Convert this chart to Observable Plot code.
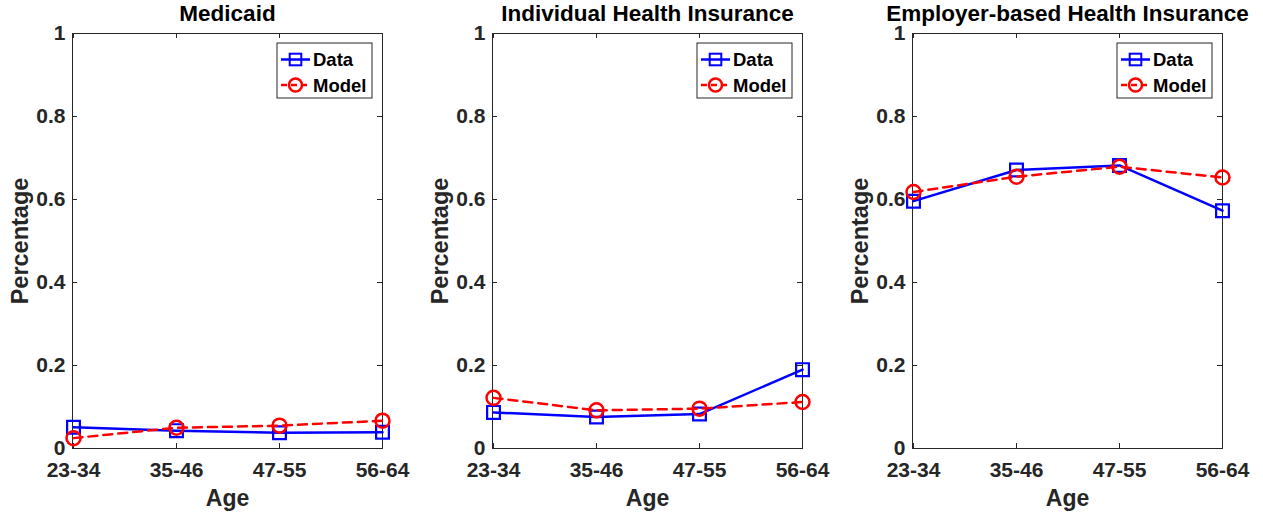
<!DOCTYPE html>
<html>
<head>
<meta charset="utf-8">
<script src="https://cdn.jsdelivr.net/npm/d3@7"></script>
<script src="https://cdn.jsdelivr.net/npm/@observablehq/plot@0.6"></script>
<style>
  html, body { margin: 0; padding: 0; background: #fff; }
  #chart { display: flex; width: 1263px; height: 514px; }
  #chart svg { display: block; }
</style>
</head>
<body>
<div id="chart"></div>
<script>
// Age groups on the x axis
const ages = ["23-34", "35-46", "47-55", "56-64"];
const yTicks = [0, 0.2, 0.4, 0.6, 0.8, 1];

// Share of people covered, by insurance type: observed data vs. model
const medicaidData = [0.051, 0.043, 0.038, 0.039];
const medicaidModel = [0.025, 0.050, 0.055, 0.067];
const individualData = [0.087, 0.076, 0.083, 0.190];
const individualModel = [0.122, 0.092, 0.096, 0.112];
const employerData = [0.596, 0.671, 0.682, 0.573];
const employerModel = [0.618, 0.655, 0.679, 0.653];

const panelTitles = ["Medicaid", "Individual Health Insurance", "Employer-based Health Insurance"];

const FONT = "'Liberation Sans', Arial, Helvetica, sans-serif";
const BLUE = "#0000ff", RED = "#ff0000", AXIS = "#262626";

function panel(title, dataVals, modelVals) {
  const rows = ages.map((age, i) => ({age, data: dataVals[i], model: modelVals[i]}));
  const W = 420, H = 514, mL = 72, mR = 38, mT = 33, mB = 66;
  const fw = W - mL - mR, fh = H - mT - mB;

  const plot = Plot.plot({
    width: W,
    height: H,
    marginLeft: mL,
    marginRight: mR,
    marginTop: mT,
    marginBottom: mB,
    style: {fontFamily: FONT, fontWeight: "bold", background: "white", overflow: "visible"},
    x: {type: "point", domain: ages, padding: 0},
    y: {domain: [0, 1]},
    marks: [
      Plot.frame({stroke: AXIS, strokeWidth: 1}),
      // inward ticks on all four sides
      Plot.tickY(yTicks, {y: d => d, insetRight: fw - 5, stroke: AXIS}),
      Plot.tickY(yTicks, {y: d => d, insetLeft: fw - 5, stroke: AXIS}),
      Plot.tickX(ages, {x: d => d, insetTop: fh - 5, stroke: AXIS}),
      Plot.tickX(ages, {x: d => d, insetBottom: fh - 5, stroke: AXIS}),
      Plot.axisY(yTicks, {tickSize: 0, tickPadding: 7, fontSize: 21, fill: AXIS, label: null, tickFormat: d => String(d)}),
      Plot.axisX(ages, {tickSize: 0, tickPadding: 14, fontSize: 21, fill: AXIS, label: null}),
      // axis labels and title
      Plot.text(["Percentage"], {frameAnchor: "left", dx: -52, rotate: -90, textAnchor: "middle", lineAnchor: "middle", fontSize: 23.5, fill: AXIS, text: d => d}),
      Plot.text(["Age"], {frameAnchor: "bottom", dy: 50, lineAnchor: "middle", fontSize: 23, fill: AXIS, text: d => d}),
      Plot.text([title], {frameAnchor: "top", dy: -19.5, lineAnchor: "middle", fontSize: 22.5, fill: "#000", text: d => d}),
      // observed data
      Plot.line(rows, {x: "age", y: "data", stroke: BLUE, strokeWidth: 2.5}),
      Plot.dot(rows, {x: "age", y: "data", symbol: "square", r: 7.2, stroke: BLUE, strokeWidth: 2.2, fill: "none"}),
      // model
      Plot.line(rows, {x: "age", y: "model", stroke: RED, strokeWidth: 2.5, strokeDasharray: "9,6"}),
      Plot.dot(rows, {x: "age", y: "model", symbol: "circle", r: 7, stroke: RED, strokeWidth: 2.5, fill: "none"})
    ]
  });

  // legend box in the upper right corner of the axes
  const svg = d3.select(plot);
  const lg = svg.append("g");
  const lx = 277, ly = 43, lw = 95, lh = 55;
  lg.append("rect").attr("x", lx).attr("y", ly).attr("width", lw).attr("height", lh)
    .attr("fill", "white").attr("stroke", AXIS).attr("stroke-width", 1);
  const entries = [
    {label: "Data", color: BLUE, dash: null, symbol: "square", cy: 59.5},
    {label: "Model", color: RED, dash: "6,4", symbol: "circle", cy: 85}
  ];
  for (const e of entries) {
    lg.append("line").attr("x1", 281).attr("x2", 310).attr("y1", e.cy).attr("y2", e.cy)
      .attr("stroke", e.color).attr("stroke-width", 2.5).attr("stroke-dasharray", e.dash);
    if (e.symbol === "square") {
      lg.append("rect").attr("x", 295.5 - 5.8).attr("y", e.cy - 5.8).attr("width", 11.6).attr("height", 11.6)
        .attr("fill", "none").attr("stroke", e.color).attr("stroke-width", 2);
    } else {
      lg.append("circle").attr("cx", 295.5).attr("cy", e.cy).attr("r", 6.5)
        .attr("fill", "none").attr("stroke", e.color).attr("stroke-width", 2.5);
    }
    lg.append("text").attr("x", 313).attr("y", e.cy).attr("dy", "0.36em")
      .attr("text-anchor", "start")
      .attr("font-family", FONT).attr("font-weight", "bold").attr("font-size", 18.5)
      .attr("fill", "#000").text(e.label);
  }
  return plot;
}

const chart = document.getElementById("chart");
chart.appendChild(panel(panelTitles[0], medicaidData, medicaidModel));
chart.appendChild(panel(panelTitles[1], individualData, individualModel));
chart.appendChild(panel(panelTitles[2], employerData, employerModel));
</script>
</body>
</html>
